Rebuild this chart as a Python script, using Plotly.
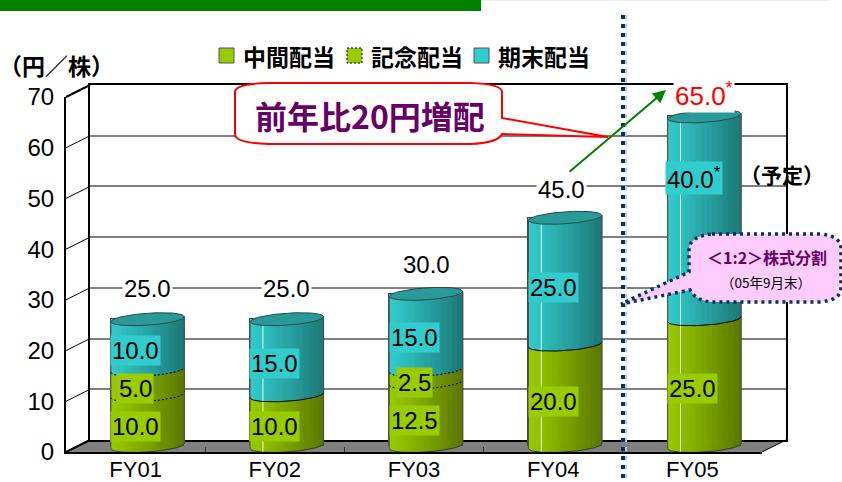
import math
import plotly.graph_objects as go

# ---- data ----
categories = ["FY01", "FY02", "FY03", "FY04", "FY05"]
interim = [10.0, 10.0, 12.5, 20.0, 25.0]
commemorative = [5.0, 0.0, 2.5, 0.0, 0.0]
year_end = [10.0, 15.0, 15.0, 25.0, 40.0]
totals = [25.0, 25.0, 30.0, 45.0, 65.0]
series_names = ["中間配当", "記念配当", "期末配当"]
y_ticks = [0, 10, 20, 30, 40, 50, 60, 70]

# ---- layout constants ----
W, H = 842, 482
CJK = "Noto Sans CJK JP"
NUM = "Liberation Sans"
GREEN, TEAL = "#99CC00", "#33CCCC"
PURPLE = "#660066"
NAVY = "#003366"
FRONT_L, FRONT_R, FRONT_0, FRONT_70 = 66, 762, 452, 97
DX, DY = 12, 6            # offset of the mid plane from the front plane
SCALE = (FRONT_0 - FRONT_70) / 70
BAR_W = 73.5 / ((FRONT_R - FRONT_L) / 5)
HALF = BAR_W / 2
ELL_B, ELL_TILT = 6.0, 2.5
N_STRIPS = 30
LOW = -4


def px(x):
    return x / W


def py(y):
    return 1 - y / H


def xdom(shift):
    return [px(FRONT_L + shift), px(FRONT_R + shift)]


def ydom(shift, low=0):
    return [py(FRONT_0 - shift - low * SCALE), py(FRONT_70 - shift)]


def path(points, close=True):
    s = "M" + " L".join(f"{px(a):.5f} {py(b):.5f}" for a, b in points)
    return s + (" Z" if close else "")


def mix(col, f):
    r, g, b = int(col[1:3], 16), int(col[3:5], 16), int(col[5:7], 16)
    return f"rgb({r*f:.0f},{g*f:.0f},{b*f:.0f})"


def offs(t, sign=1):
    """vertical offset (value units) of the ellipse rim at position t"""
    return (-sign * ELL_B * math.sqrt(max(0, 1 - t * t)) + ELL_TILT * t) / SCALE


fig = go.Figure()

# back plane: gridlines
fig.add_trace(go.Scatter(x=[0], y=[0], xaxis="x", yaxis="y", mode="lines",
                         showlegend=False, hoverinfo="skip"))

# real stacked bars (base of the cylinders)
stack = [interim, commemorative, year_end]
colors = [GREEN, GREEN, TEAL]
x_idx = list(range(len(categories)))
for name, vals, col in zip(series_names, stack, colors):
    fig.add_trace(go.Bar(x=x_idx, y=vals, name=name, width=BAR_W, xaxis="x2", yaxis="y2",
                         marker=dict(color=col, line=dict(color="#444444", width=1))))

# cylinder shading strips
for s, (vals, col) in enumerate(zip(stack, colors)):
    bases = [sum(stack[k][i] for k in range(s)) for i in x_idx]
    for k in range(N_STRIPS):
        t0 = -1 + 2 * k / N_STRIPS
        t1 = -1 + 2 * (k + 1) / N_STRIPS
        xs, ys = [], []
        for i in x_idx:
            if vals[i] <= 0:
                continue
            lo, hi = bases[i], bases[i] + vals[i]
            xs += [i + t0 * HALF, i + t1 * HALF, i + t1 * HALF, i + t0 * HALF, i + t0 * HALF, None]
            ys += [lo + offs(t0), lo + offs(t1), hi + offs(t1), hi + offs(t0), lo + offs(t0), None]
        frac = (k + 0.5) / N_STRIPS
        c = mix(col, 1.0 - 0.42 * frac ** 1.1)
        fig.add_trace(go.Scatter(x=xs, y=ys, xaxis="x2", yaxis="y2", mode="lines", fill="toself",
                                 fillcolor=c, line=dict(color=c, width=0.7), showlegend=False,
                                 hoverinfo="skip"))

ts = [-1 + 2 * k / 40 for k in range(41)]
for i in x_idx:
    # highlight line
    if i in (1, 3, 4):
        t = -0.65
        fig.add_trace(go.Scatter(x=[i + t * HALF] * 2, y=[0 + offs(t), totals[i] + offs(t)],
                                 xaxis="x2", yaxis="y2", mode="lines", showlegend=False,
                                 line=dict(color="rgba(255,255,255,0.85)", width=1), hoverinfo="skip"))
    # side lines
    for t in (-1, 1):
        fig.add_trace(go.Scatter(x=[i + t * HALF] * 2, y=[offs(t), totals[i] + offs(t)],
                                 xaxis="x2", yaxis="y2", mode="lines", showlegend=False,
                                 line=dict(color="#4a4a4a", width=1), hoverinfo="skip"))
    # base rim
    fig.add_trace(go.Scatter(x=[i + t * HALF for t in ts], y=[offs(t) for t in ts],
                             xaxis="x2", yaxis="y2", mode="lines", showlegend=False,
                             line=dict(color="#3a3a3a", width=1), hoverinfo="skip"))
    # boundaries between segments
    level = 0
    for s in range(2):
        seg = stack[s][i]
        level += seg
        if seg <= 0:
            continue
        dashed = s == 1 or stack[1][i] > 0
        fig.add_trace(go.Scatter(x=[i + t * HALF for t in ts], y=[level + offs(t) for t in ts],
                                 xaxis="x2", yaxis="y2", mode="lines", showlegend=False,
                                 line=dict(color="#000000", width=1, dash="2px,2px" if dashed else "solid"),
                                 hoverinfo="skip"))
    # top face
    rim = [(t, 1) for t in ts] + [(t, -1) for t in reversed(ts)]
    fig.add_trace(go.Scatter(x=[i + t * HALF for t, _ in rim],
                             y=[totals[i] + offs(t, sg) for t, sg in rim],
                             xaxis="x2", yaxis="y2", mode="lines", fill="toself", fillcolor="#299999",
                             line=dict(color="#2a4a4a", width=1), showlegend=False, hoverinfo="skip"))

# front plane: carries the visible tick labels
fig.add_trace(go.Scatter(x=x_idx, y=totals, xaxis="x3", yaxis="y3", mode="lines",
                         line=dict(width=0), showlegend=False, hoverinfo="skip"))

axis_off = dict(visible=False, fixedrange=True, automargin=False)
fig.update_layout(
    template="none",
    width=W, height=H, autosize=False, margin=dict(l=0, r=0, t=0, b=0, pad=0, autoexpand=False),
    paper_bgcolor="white", plot_bgcolor="rgba(0,0,0,0)", barmode="stack", bargap=0,
    font=dict(family=CJK, color="black"),
    showlegend=False,
    xaxis=dict(domain=xdom(2 * DX), range=[-0.5, 4.5], anchor="y", showgrid=False, showticklabels=False, automargin=False,
               ticks="", zeroline=False, showline=True, mirror=True, linecolor="black", linewidth=2, fixedrange=True),
    yaxis=dict(domain=ydom(2 * DY), range=[0, 70], anchor="x", showgrid=True, gridcolor="#808080", gridwidth=2, automargin=False,
               tickvals=y_ticks, showticklabels=False, ticks="", zeroline=False, showline=True, mirror=True,
               linecolor="black", linewidth=1.5, fixedrange=True),
    xaxis2=dict(domain=xdom(DX), range=[-0.5, 4.5], anchor="y2", **axis_off),
    yaxis2=dict(domain=ydom(DY, LOW), range=[LOW, 70], anchor="x2", **axis_off),
    xaxis3=dict(domain=xdom(0), range=[-0.5, 4.5], anchor="y3", tickvals=x_idx, ticktext=categories, automargin=False,
                tickfont=dict(family=NUM, size=22, color="black"), ticks="", ticklabelstandoff=-3,
                showgrid=False, zeroline=False, showline=True,
                linecolor="black", linewidth=1.5, fixedrange=True,
                minor=dict(tickvals=[0.5, 1.5, 2.5, 3.5], ticks="inside", ticklen=5, tickcolor="#333333",
                           tickwidth=1, showgrid=False)),
    yaxis3=dict(domain=ydom(0), range=[0, 70], anchor="x3", tickvals=y_ticks, automargin=False,
                tickfont=dict(family=NUM, size=24, color="black"), ticks="outside", ticklen=5,
                tickcolor="rgba(0,0,0,0)", showgrid=False, zeroline=False, showline=True,
                linecolor="black", linewidth=2, fixedrange=True),
)

# ---- shapes ----
shapes = []


def add_path(points, fill=None, line=None, width=1, dash="solid", layer="above", close=True):
    shapes.append(dict(type="path", xref="paper", yref="paper", path=path(points, close), layer=layer,
                       fillcolor=fill or "rgba(0,0,0,0)", line=dict(color=line or "rgba(0,0,0,0)", width=width, dash=dash)))


# top green band
add_path([(0, 0), (481, 0), (481, 11), (0, 11)], fill="#008000", layer="below")
add_path([(481, 0), (828, 0), (828, 1), (481, 1)], fill="#E4F2EA", layer="below")
# floor
F0 = FRONT_0
add_path([(FRONT_L, F0), (FRONT_R, F0), (FRONT_R + 2 * DX, F0 - 2 * DY), (FRONT_L + 2 * DX, F0 - 2 * DY)],
         fill="#808080", layer="below")
add_path([(FRONT_R, F0), (FRONT_R + 2 * DX, F0 - 2 * DY)], line="black", width=1, layer="below", close=False)
# depth ticks on the left wall
for v in y_ticks:
    yf = FRONT_0 - v * SCALE
    add_path([(FRONT_L, yf), (FRONT_L + 2 * DX, yf - 2 * DY)], line="black",
             width=2 if v in (0, 70) else 1, layer="below", close=False)

# red balloon
shapes.append(dict(type="path", xref="paper", yref="paper", layer="above", fillcolor="white",
                   line=dict(color="#FF0000", width=2),
                   path=(f"M{px(268):.5f} {py(83):.5f} L{px(470):.5f} {py(83):.5f} "
                         f"Q{px(502):.5f} {py(84):.5f} {px(502):.5f} {py(92):.5f} "
                         f"L{px(502):.5f} {py(118):.5f} L{px(608):.5f} {py(137):.5f} L{px(502):.5f} {py(134):.5f} "
                         f"Q{px(498):.5f} {py(143):.5f} {px(470):.5f} {py(144):.5f} L{px(268):.5f} {py(144):.5f} "
                         f"Q{px(235):.5f} {py(143):.5f} {px(235):.5f} {py(134):.5f} L{px(235):.5f} {py(92):.5f} "
                         f"Q{px(235):.5f} {py(84):.5f} {px(268):.5f} {py(83):.5f} Z")))

# dotted vertical divider with shadow
add_path([(625, 15), (625, 478)], line="#C8C8C8", width=4, dash="4px,5px", close=False)
add_path([(623, 15), (623, 478)], line=NAVY, width=4, dash="4px,5px", close=False)

# pink balloon
shapes.append(dict(type="path", xref="paper", yref="paper", layer="above", fillcolor="#FFCCFF",
                   line=dict(color=NAVY, width=3.5, dash="3px,4px"),
                   path=(f"M{px(712):.5f} {py(234):.5f} L{px(820):.5f} {py(234):.5f} "
                         f"Q{px(841):.5f} {py(236):.5f} {px(841):.5f} {py(248):.5f} L{px(841):.5f} {py(288):.5f} "
                         f"Q{px(841):.5f} {py(300):.5f} {px(820):.5f} {py(302):.5f} L{px(712):.5f} {py(302):.5f} "
                         f"Q{px(696):.5f} {py(301):.5f} {px(690):.5f} {py(290):.5f} L{px(621):.5f} {py(304):.5f} "
                         f"L{px(689):.5f} {py(272):.5f} L{px(689):.5f} {py(248):.5f} "
                         f"Q{px(691):.5f} {py(236):.5f} {px(712):.5f} {py(234):.5f} Z")))
# legend swatches
swatch_x = [219, 347, 474]
for sx, col, name in zip(swatch_x, colors, series_names):
    dashed = name == series_names[1]
    add_path([(sx, 48), (sx + 15, 48), (sx + 15, 63), (sx, 63)], fill=col, line="black" if dashed else "#555555",
             width=1, dash="2px,2px" if dashed else "solid")
fig.update_layout(shapes=shapes)

# ---- annotations ----
ann = []


def text(s, x, y, size, color="black", bold=False, family=CJK, xanchor="center"):
    ann.append(dict(text=s, x=px(x), y=py(y), xref="paper", yref="paper", showarrow=False, xanchor=xanchor,
                    yanchor="middle", font=dict(family=family, size=size, color=color, weight=700 if bold else 400)))


for sx, name in zip(swatch_x, series_names):
    text(name, sx + 22, 56, 23, bold=True, xanchor="left")
text("（円／株）", 56, 65, 23, bold=True)
text("前年比20円増配", 369.5, 115, 32, color=PURPLE, bold=True)
text("（予定）", 782, 174, 21, bold=True)
text("＜1:2＞株式分割", 767, 257, 16, color=PURPLE, bold=True)
text("（05年9月末）", 766, 282, 13.5)

# arrow
ann.append(dict(x=px(666), y=py(90), ax=568 - 666, ay=173 - 90, xref="paper", yref="paper", axref="pixel", ayref="pixel",
                text="", showarrow=True, arrowhead=2, arrowsize=1.3, arrowwidth=2, arrowcolor="#008000"))

# segment labels, centred on each stack segment in the front plane
for s, (vals, col) in enumerate(zip(stack, colors)):
    for i in x_idx:
        if vals[i] <= 0:
            continue
        mid = sum(stack[k][i] for k in range(s)) + vals[i] / 2
        moved = s == 2 and i == 4
        ann.append(dict(text=f"{vals[i]:.1f}" + ("<sup>*</sup>" if moved else ""), x=i, y=mid, xref="x3", yref="y3",
                        yshift=46 if moved else 0, xshift=2 if moved else 0, showarrow=False, bgcolor=col,
                        borderpad=1, font=dict(family=NUM, size=24, color="black")))

# totals, lifted above the cylinders
lifts = [37, 37, 35, 34, 28]
xshifts = [0, 0, 0, -4, 0]
for i in x_idx:
    red = i == 4
    ann.append(dict(text=f"{totals[i]:.1f}" + ("<sup>*</sup>" if red else ""), x=i, y=totals[i], xref="x2", yref="y3",
                    yshift=lifts[i], xshift=xshifts[i], showarrow=False, bgcolor="white", borderpad=1,
                    font=dict(family=NUM, size=26 if red else 24, color="#FF0000" if red else "black")))

fig.update_layout(annotations=ann)

fig.write_html("out.html", config=dict(displayModeBar=False, responsive=False),
               post_script="document.body.style.margin='0';document.body.style.overflow='hidden';")
